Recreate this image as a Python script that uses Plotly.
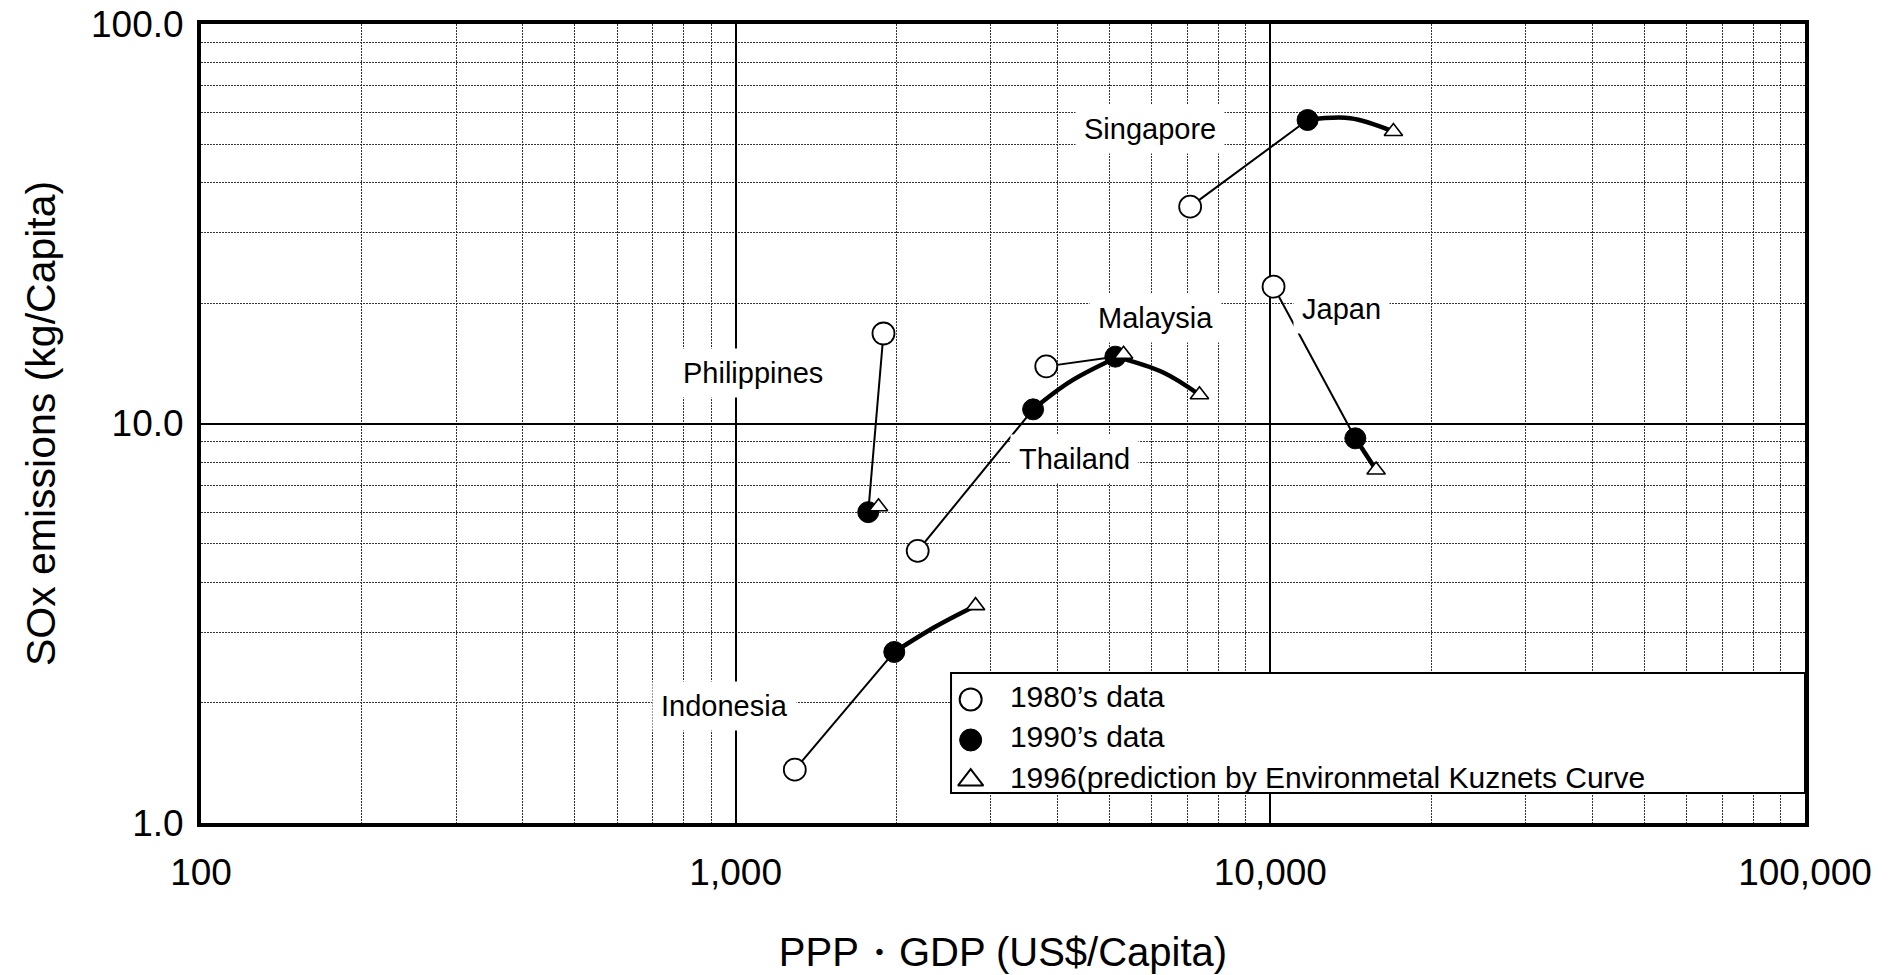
import numpy as np
import plotly.graph_objects as go

# ---------------- data ----------------
countries = ["Singapore", "Malaysia", "Thailand", "Philippines", "Indonesia", "Japan"]
gdp_1980 = [7080, 3810, 2190, 1890, 1290, 10140]
sox_1980 = [34.9, 13.9, 4.80, 16.8, 1.36, 22.0]
gdp_1990 = [11740, 5130, 3600, 1770, 1980, 14420]
sox_1990 = [57.5, 14.7, 10.85, 6.00, 2.68, 9.18]
gdp_1996 = [16990, 7370, 5315, 1850, 2810, 15770]
sox_1996 = [53.8, 11.8, 14.9, 6.19, 3.50, 7.65]
gdp_arc = [14110, 6306, 4244, None, 2362, None]
sox_arc = [58.1, 13.42, 12.78, None, 3.10, None]

# country label anchors
label_gdp = [5964, 6094, 4308, 1078, 952, 13576]
label_sox = [54.6, 18.37, 8.15, 13.41, 1.963, 19.35]

legend_labels = ["1980\u2019s data", "1990\u2019s data",
                 "1996(prediction by Environmetal Kuznets Curve"]

x_title = "PPP\u30fbGDP (US$/Capita)"
y_title = "SOx emissions (kg/Capita)"

FONT = "Liberation Sans, Arial, sans-serif"

fig = go.Figure()

# thin lines 1980 -> 1990
for i, c in enumerate(countries):
    fig.add_trace(go.Scatter(
        x=[gdp_1980[i], gdp_1990[i]], y=[sox_1980[i], sox_1990[i]],
        mode="lines", line=dict(color="black", width=2),
        showlegend=False, hoverinfo="skip"))

# thick EKC arcs 1990 -> 1996
for i, c in enumerate(countries):
    xs = [gdp_1990[i]] + ([gdp_arc[i]] if gdp_arc[i] is not None else []) + [gdp_1996[i]]
    ys = [sox_1990[i]] + ([sox_arc[i]] if sox_arc[i] is not None else []) + [sox_1996[i]]
    fig.add_trace(go.Scatter(
        x=xs, y=ys, mode="lines",
        line=dict(color="black", width=4.5, shape="spline", smoothing=1.0),
        showlegend=False, hoverinfo="skip"))

fig.add_trace(go.Scatter(
    x=gdp_1980, y=sox_1980, mode="markers", name=legend_labels[0],
    marker=dict(symbol="circle", size=22, color="white",
                line=dict(color="black", width=1.8)),
    showlegend=False))
fig.add_trace(go.Scatter(
    x=gdp_1990, y=sox_1990, mode="markers", name=legend_labels[1],
    marker=dict(symbol="circle", size=21, color="black",
                line=dict(color="black", width=1)),
    showlegend=False))
fig.add_trace(go.Scatter(
    x=gdp_1996, y=sox_1996, mode="markers", name=legend_labels[2],
    marker=dict(symbol="triangle-up", size=16, color="white",
                line=dict(color="black", width=1.6)),
    showlegend=False))

# country labels (white boxes)
for i, c in enumerate(countries):
    fig.add_annotation(
        x=np.log10(label_gdp[i]), y=np.log10(label_sox[i]), xref="x", yref="y",
        text=c, showarrow=False, bgcolor="white", borderpad=8,
        font=dict(family=FONT, size=29, color="black"))

# y-axis title
fig.add_annotation(
    x=-0.1, y=0.5, xref="paper", yref="paper", xanchor="center", yanchor="middle",
    text=y_title, textangle=-90, showarrow=False,
    font=dict(family=FONT, size=41, color="black"))

# ---------------- custom legend box in its own subplot ----------------
lx0, lx1, ly0, ly1 = 0.4676, 1.0, 0.0375, 0.1877
fig.add_trace(go.Scatter(
    x=[0, 1, 1, 0, 0], y=[0, 0, 1, 1, 0], xaxis="x2", yaxis="y2",
    mode="lines", fill="toself", fillcolor="white", line=dict(width=0),
    showlegend=False, hoverinfo="skip"))
row_y = [0.78, 0.442, 0.108]
fig.add_trace(go.Scatter(
    x=[0.023], y=[row_y[0]], xaxis="x2", yaxis="y2", mode="markers",
    marker=dict(symbol="circle", size=22, color="white", line=dict(color="black", width=2)),
    showlegend=False, hoverinfo="skip"))
fig.add_trace(go.Scatter(
    x=[0.023], y=[row_y[1]], xaxis="x2", yaxis="y2", mode="markers",
    marker=dict(symbol="circle", size=22, color="black", line=dict(color="black", width=1)),
    showlegend=False, hoverinfo="skip"))
fig.add_trace(go.Scatter(
    x=[0.023], y=[row_y[2]], xaxis="x2", yaxis="y2", mode="markers",
    marker=dict(symbol="triangle-up", size=22, color="white", line=dict(color="black", width=2)),
    showlegend=False, hoverinfo="skip"))
fig.add_trace(go.Scatter(
    x=[0.069] * 3, y=row_y, xaxis="x2", yaxis="y2", mode="text",
    text=legend_labels, textposition="middle right",
    textfont=dict(family=FONT, size=30, color="black"), cliponaxis=True,
    showlegend=False, hoverinfo="skip"))
fig.add_shape(type="rect", xref="paper", yref="paper", x0=lx0, x1=lx1, y0=ly0, y1=ly1,
              line=dict(color="black", width=2), fillcolor="rgba(0,0,0,0)", layer="above")

axis_common = dict(
    type="log", showline=True, linecolor="black", linewidth=4, mirror=True,
    ticks="", dtick=1, zeroline=False,
    showgrid=True, gridcolor="black", gridwidth=2,
    minor=dict(dtick="D1", showgrid=True, gridcolor="#333", griddash="2px,1px", gridwidth=1),
    tickfont=dict(family=FONT, size=37, color="black"),
    ticklabeloverflow="allow",
    automargin=False,
)

fig.update_layout(
    width=1890, height=975,
    margin=dict(l=201, r=85, t=24, b=152),
    paper_bgcolor="white", plot_bgcolor="white",
    showlegend=False,
    xaxis=dict(axis_common, range=[2, 5], tickformat=",", ticklabelstandoff=14,
               title=dict(text=x_title, font=dict(family=FONT, size=40, color="black"), standoff=47)),
    yaxis=dict(axis_common, range=[0, 2], tickformat=".1f", ticklabelstandoff=6),
    xaxis2=dict(domain=[lx0, lx1], range=[0, 1], anchor="y2", visible=False, fixedrange=True),
    yaxis2=dict(domain=[ly0, ly1], range=[0, 1], anchor="x2", visible=False, fixedrange=True),
)

fig.write_html(
    "out.html",
    config={"displayModeBar": False},
    post_script="document.body.style.margin='0';document.body.style.overflow='hidden';",
)
